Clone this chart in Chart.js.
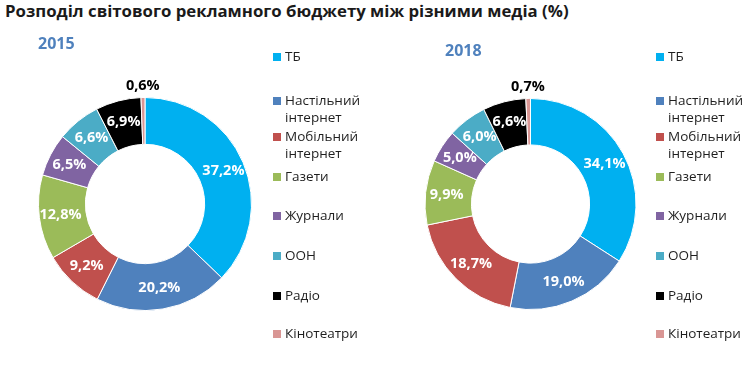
<!DOCTYPE html>
<html><head><meta charset="utf-8">
<script src="https://cdn.jsdelivr.net/npm/chart.js@4/dist/chart.umd.min.js"></script>
<style>
html,body{margin:0;padding:0;background:#fff;width:750px;height:375px;overflow:hidden;}
#title{position:absolute;left:5px;top:-1px;font:bold 16.8px "Open Sans";color:#1a1a1a;white-space:nowrap;}
.box{position:absolute;top:0;width:375px;height:375px;}
</style></head><body>
<div id="title">Розподіл світового рекламного бюджету між різними медіа (%)</div>
<div class="box" style="left:0"><canvas id="c1" width="375" height="375"></canvas></div>
<div class="box" style="left:375px"><canvas id="c2" width="375" height="375"></canvas></div>
<script>
const categories = [["ТБ"],["Настільний","інтернет"],["Мобільний","інтернет"],["Газети"],["Журнали"],["ООН"],["Радіо"],["Кінотеатри"]];
const years = ["2015","2018"];
const values2015 = [37.2,20.2,9.2,12.8,6.5,6.6,6.9,0.6];
const values2018 = [34.1,19.0,18.7,9.9,5.0,6.0,6.6,0.7];
const colors = ['#00B0F0','#4F81BD','#C0504D','#9BBB59','#8064A2','#4BACC6','#000000','#D99694'];

const fmt = v => v.toFixed(1).replace('.', ',') + '%';
const decor = {
  id:'decor',
  afterDatasetsDraw(chart, args, opts){
    const ctx = chart.ctx;
    const meta = chart.getDatasetMeta(0);
    const ds = chart.data.datasets[0];
    ctx.save();
    ctx.textAlign='center'; ctx.textBaseline='middle';
    ctx.font = 'bold 14.5px "Open Sans"';
    meta.data.forEach((arc,i)=>{
      const p = arc.getProps(['x','y','startAngle','endAngle','innerRadius','outerRadius'], true);
      const mid = (p.startAngle+p.endAngle)/2;
      const v = ds.data[i];
      let r, col;
      if (v < 2) { r = p.outerRadius + 12; col = '#000'; }
      else { r = p.outerRadius*0.8; col = '#fff'; }
      ctx.fillStyle = col;
      ctx.fillText(fmt(v), p.x + Math.cos(mid)*r, p.y + Math.sin(mid)*r);
    });
    ctx.textAlign='left'; ctx.textBaseline='alphabetic';
    ctx.fillStyle='#4F81BD'; ctx.font='bold 16px "Open Sans"';
    ctx.fillText(opts.year, opts.yearX, opts.yearY);
    ctx.font='13.5px "Open Sans"'; ctx.textBaseline='middle';
    chart.data.labels.forEach((lab,i)=>{
      const y = opts.legendY[i];
      ctx.fillStyle = ds.backgroundColor[i];
      ctx.fillRect(opts.legendX, y-4, 8, 8);
      ctx.fillStyle = '#1f1f1f';
      lab.forEach((line,j)=>ctx.fillText(line, opts.legendX+12, y + j*opts.lineH));
    });
    ctx.restore();
  }
};
const legendY = [57,101,137,177,216,256,296,334];
function make(id, values, year, pad, legendX, yearX, yearY){
  return new Chart(document.getElementById(id), {
    type:'doughnut',
    data:{ labels: categories, datasets:[{ data: values, backgroundColor: colors, borderColor:'#ffffff', borderWidth:1 }]},
    options:{
      responsive:false, animation:false, cutout:'56%', rotation:0,
      layout:{ padding: pad },
      plugins:{ legend:{display:false}, tooltip:{enabled:false},
        decor:{ year, yearX, yearY, legendX, legendY, lineH:17 } }
    },
    plugins:[decor]
  });
}
make('c1', values2015, years[0], {left:38, top:97, right:123, bottom:64}, 273, 38, 49);
make('c2', values2018, years[1], {left:49, top:98, right:113, bottom:65}, 281, 70, 56);
</script>
</body></html>
